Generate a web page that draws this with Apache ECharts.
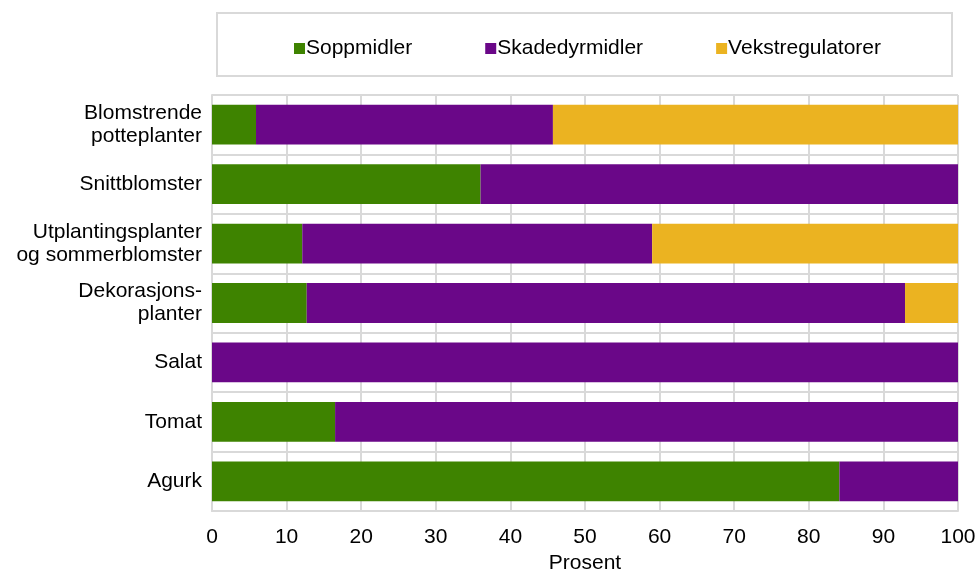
<!DOCTYPE html>
<html>
<head>
<meta charset="utf-8">
<script src="https://cdn.jsdelivr.net/npm/echarts@6/dist/echarts.min.js"></script>
<style>
  html, body { margin: 0; padding: 0; background: #fff; }
  #chart { width: 978px; height: 571px; }
</style>
</head>
<body>
<div id="chart"></div>
<script>
// Share of active substance by type, per greenhouse crop (percent)
const categories = [
  'Blomstrende\npotteplanter',
  'Snittblomster',
  'Utplantingsplanter\nog sommerblomster',
  'Dekorasjons-\nplanter',
  'Salat',
  'Tomat',
  'Agurk'
];
const seriesNames = ['Soppmidler', 'Skadedyrmidler', 'Vekstregulatorer'];
const soppmidler       = [5.9, 36.0, 12.1, 12.7, 0,   16.5, 84.1];
const skadedyrmidler   = [39.8, 64.0, 46.9, 80.2, 100, 83.5, 15.9];
const vekstregulatorer = [54.3, 0,    41.0, 7.1,  0,   0,    0];
const xTicks = { min: 0, max: 100, interval: 10 };

const colors = ['#3e8300', '#6a0788', '#ebb321'];
const font = 'Liberation Sans, Arial, sans-serif';
const gridColor = '#d9d9d9';
const fontSize = 21;

const chart = echarts.init(document.getElementById('chart'), null, { renderer: 'canvas' });

const values = [soppmidler, skadedyrmidler, vekstregulatorer];

chart.setOption({
  animation: false,
  textStyle: { fontFamily: font },
  graphic: [{
    type: 'rect',
    shape: { x: 217, y: 13, width: 735, height: 63 },
    style: { fill: '#fff', stroke: gridColor, lineWidth: 2 },
    z: -1
  }],
  legend: {
    left: 289,
    top: 33,
    itemWidth: 11,
    itemHeight: 11,
    itemGap: 73,
    icon: 'rect',
    textStyle: { fontFamily: font, fontSize: fontSize, color: '#000', padding: [0, 0, 0, -4] },
    data: seriesNames
  },
  grid: { left: 212, right: 20, top: 95, bottom: 60, containLabel: false, outerBoundsMode: 'none' },
  xAxis: {
    type: 'value',
    min: xTicks.min,
    max: xTicks.max,
    interval: xTicks.interval,
    name: 'Prosent',
    nameLocation: 'middle',
    nameGap: 41,
    nameTextStyle: { fontFamily: font, fontSize: fontSize, color: '#000' },
    axisLine: { show: true, lineStyle: { color: gridColor, width: 2 } },
    axisTick: { show: false },
    axisLabel: { fontFamily: font, fontSize: fontSize, color: '#000', margin: 16 },
    splitLine: { show: true, lineStyle: { color: gridColor, width: 2 } }
  },
  yAxis: {
    type: 'category',
    inverse: true,
    data: categories,
    axisLine: { show: true, lineStyle: { color: gridColor, width: 2 } },
    axisTick: { show: false },
    axisLabel: { fontFamily: font, fontSize: fontSize, color: '#000', margin: 10, lineHeight: 23, align: 'right' },
    splitLine: { show: true, lineStyle: { color: gridColor, width: 2 } }
  },
  series: seriesNames.map((name, i) => ({
    name,
    type: 'bar',
    stack: 'total',
    barCategoryGap: '33%',
    itemStyle: { color: colors[i] },
    data: values[i]
  }))
});
</script>
</body>
</html>
